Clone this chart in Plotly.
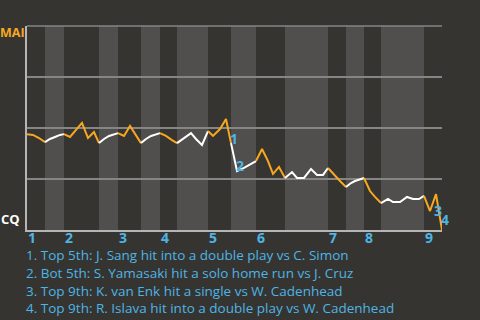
import plotly.graph_objects as go

# ---- data ----
# game progress (arbitrary units along the x axis) and MAI win probability
prog = [0, 6, 12, 18,
        23, 28, 33, 37,
        43, 55, 61, 67, 72,
        77, 82, 87, 91,
        97, 103, 109, 114,
        119, 124, 129, 133,
        139, 145, 150,
        157, 164, 169, 175, 181,
        186, 193, 199, 204,
        210, 217, 223, 229,
        235, 241, 246, 252, 258,
        265, 270, 277, 284, 290, 296, 301,
        307, 313, 319,
        324, 328, 333, 337,
        343, 348, 354,
        361, 366, 373, 380, 386, 392, 397,
        403, 409, 415]
wp = [0.470, 0.466, 0.451, 0.431,
      0.446, 0.456, 0.466, 0.470,
      0.456, 0.525, 0.451, 0.480, 0.426,
      0.446, 0.461, 0.470, 0.475,
      0.461, 0.510, 0.466, 0.426,
      0.446, 0.461, 0.470, 0.475,
      0.461, 0.441, 0.426,
      0.451, 0.475, 0.446, 0.417, 0.485,
      0.461, 0.495, 0.544, 0.426,
      0.289, 0.304, 0.319, 0.338,
      0.397, 0.338, 0.275, 0.309, 0.255,
      0.284, 0.255, 0.255, 0.299, 0.270, 0.270, 0.304,
      0.270, 0.240, 0.211,
      0.230, 0.240, 0.250, 0.255,
      0.191, 0.162, 0.132,
      0.152, 0.137, 0.137, 0.162, 0.152, 0.152, 0.167,
      0.093, 0.176, 0.0]

# half-inning boundaries in progress units (top, bottom alternating)
half_bounds = [0, 18, 37, 72, 91, 114, 133, 150, 181, 204, 229, 258, 301, 319, 337, 354, 397, 415]
inning_labels = ["1", "2", "3", "4", "5", "6", "7", "8", "9"]

# key events: index into prog/wp, label
event_idx = [36, 37, 71, 72]
event_labels = ["1", "2", "3", "4"]
event_texts = [
    "1. Top 5th: J. Sang hit into a double play vs C. Simon",
    "2. Bot 5th: S. Yamasaki hit a solo home run vs J. Cruz",
    "3. Top 9th: K. van Enk hit a single vs W. Cadenhead",
    "4. Top 9th: R. Islava hit into a double play vs W. Cadenhead",
]
team_top = "MAI"
team_bottom = "CQ"

# ---- styles ----
BG = "#363430"
BAND = "#504f4d"
ORANGE = "#f6a821"
WHITE = "#ffffff"
BLUE = "#4db5e6"
GRID = "#858585"
FONT = "Open Sans"

fig = go.Figure()

# line segments per half inning
for h in range(len(half_bounds) - 1):
    a, b = half_bounds[h], half_bounds[h + 1]
    xs = [p for p in prog if a <= p <= b]
    ys = [wp[i] for i, p in enumerate(prog) if a <= p <= b]
    fig.add_trace(go.Scatter(
        x=xs, y=ys, mode="lines",
        line=dict(color=ORANGE if h % 2 == 0 else WHITE, width=2),
        hoverinfo="skip", showlegend=False, cliponaxis=False,
    ))

shapes = []
for h in range(1, len(half_bounds) - 1, 2):
    shapes.append(dict(type="rect", xref="x", yref="paper",
                       x0=half_bounds[h], x1=half_bounds[h + 1], y0=0, y1=1,
                       fillcolor=BAND, line=dict(width=0), layer="below"))
# top grid line (plotly hides the one at the range edge)
shapes.append(dict(type="line", xref="paper", yref="paper", x0=0, x1=1, y0=1, y1=1,
                   line=dict(color=GRID, width=1.5), layer="below"))

annotations = []
# inning numbers
for k, lab in enumerate(inning_labels):
    annotations.append(dict(x=half_bounds[2 * k], y=0, xref="x", yref="paper",
                            text=f"<b>{lab}</b>", showarrow=False,
                            xanchor="left", yanchor="top", xshift=-1, yshift=4,
                            font=dict(family=FONT, size=14, color=BLUE)))
# team labels
annotations.append(dict(x=0, y=1, xref="paper", yref="paper", text=f"<b>{team_top}</b>",
                        showarrow=False, xanchor="right", yanchor="top", xshift=0, yshift=4,
                        font=dict(family=FONT, size=12.5, color=ORANGE)))
annotations.append(dict(x=0, y=0, xref="paper", yref="paper", text=f"<b>{team_bottom}</b>",
                        showarrow=False, xanchor="right", yanchor="bottom", xshift=-5, yshift=0,
                        font=dict(family=FONT, size=13, color=WHITE)))
# event markers
ev_shift = [(3, 5), (3, 6), (2, -16), (3, 11)]
for i, lab, (dx, dy) in zip(event_idx, event_labels, ev_shift):
    annotations.append(dict(x=prog[i], y=wp[i], xref="x", yref="y", text=f"<b>{lab}</b>",
                            showarrow=False, xanchor="center", yanchor="middle",
                            xshift=dx, yshift=dy,
                            font=dict(family=FONT, size=14, color=BLUE)))
# event descriptions
for j, t in enumerate(event_texts):
    annotations.append(dict(x=0, y=0, xref="paper", yref="paper", text=t,
                            showarrow=False, xanchor="left", yanchor="middle",
                            xshift=-3, yshift=-25 - 17.8 * j,
                            font=dict(family=FONT, size=13.5, color=BLUE)))

fig.update_layout(
    width=480, height=320,
    margin=dict(l=27, r=38, t=26, b=90),
    paper_bgcolor=BG, plot_bgcolor=BG,
    shapes=shapes, annotations=annotations,
    xaxis=dict(range=[0, 415], showgrid=False, zeroline=False, showticklabels=False,
               showline=True, linecolor="#b5b5b5", linewidth=2, ticks="", fixedrange=True),
    yaxis=dict(range=[0, 1], tickvals=[0, 0.25, 0.5, 0.75, 1], showgrid=True,
               gridcolor=GRID, gridwidth=1.5, zeroline=False, showticklabels=False,
               showline=True, linecolor="#b5b5b5", linewidth=2, ticks="", fixedrange=True),
    font=dict(family=FONT),
)

fig.write_html("out.html", config={"displayModeBar": False})
